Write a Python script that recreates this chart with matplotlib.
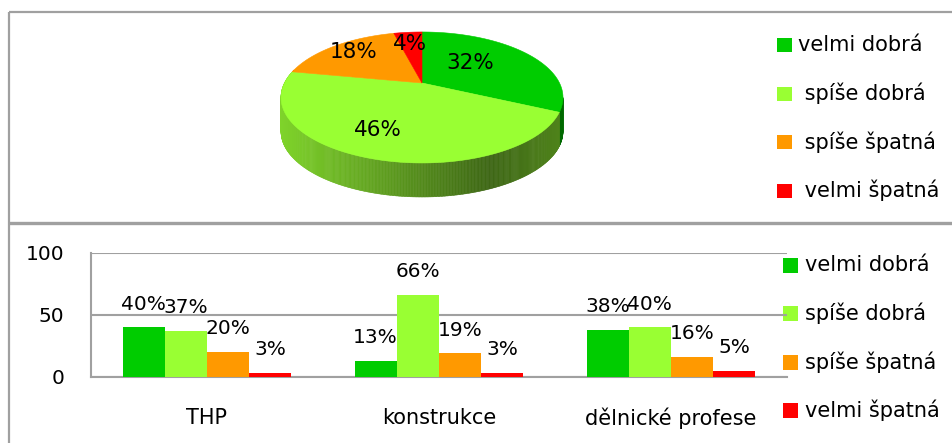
import numpy as np
import matplotlib
matplotlib.use("Agg")
import matplotlib.pyplot as plt
from matplotlib.patches import Polygon, Rectangle
from matplotlib.collections import PolyCollection
from matplotlib.colors import to_rgb

plt.rcParams['font.family'] = ['DejaVu Sans']

# ---------------- data ----------------
ratings = ["velmi dobrá", "spíše dobrá", "spíše špatná", "velmi špatná"]
pie_legend_labels = ["velmi dobrá", " spíše dobrá", " spíše špatná", " velmi špatná"]
colors = ["#00CC00", "#99FF33", "#FF9900", "#FF0000"]
pie_values = [32, 46, 18, 4]

groups = ["THP", "konstrukce", "dělnické profese"]
thp_values = [40, 37, 20, 3]
konstrukce_values = [13, 66, 19, 3]
delnicke_values = [38, 40, 16, 5]
y_ticks = [0, 50, 100]

# ---------------- figure ----------------
W, H = 953, 443
fig = plt.figure(figsize=(W / 100, H / 100), dpi=100)
ax0 = fig.add_axes([0, 0, 1, 1])
ax0.set_xlim(0, W)
ax0.set_ylim(H, 0)
ax0.axis('off')

border = "#a0a0a0"
ax0.plot([9, W], [11.5, 11.5], color=border, lw=1.6, solid_capstyle='butt')
ax0.plot([9, 9], [11.5, H], color=border, lw=1.6, solid_capstyle='butt')
ax0.plot([9, W], [223, 223], color=border, lw=2.4, solid_capstyle='butt')

# ---------------- 3D pie ----------------
CX, CY, A, B, K, DEPTH = 422, 83, 137.5, 62.3, 0.221, 34


def proj(u, v):
    d = 1 + K * v
    return CX + A * u / d, CY - B * v / d


def shade(u, v):
    xr = u / (1 + K * v)
    return np.interp(xr, [-1.03, 0.5, 1.03], [0.83, 0.40, 0.52])


total = float(sum(pie_values))
cum = np.concatenate([[0], np.cumsum(pie_values)]) / total
t_start = 90 - 360 * cum[:-1]
t_end = 90 - 360 * cum[1:]

vis_hi = -np.degrees(np.arcsin(K))
vis_lo = -180 - np.degrees(np.arcsin(K))

# side wall
polys, pcols = [], []
for i in range(len(pie_values)):
    hi = min(t_start[i], vis_hi)
    lo = max(t_end[i], vis_lo)
    if hi <= lo:
        continue
    n = max(2, int((hi - lo) / 0.5) + 1)
    ts = np.linspace(hi, lo, n)
    base = np.array(to_rgb(colors[i]))
    for a0, a1 in zip(ts[:-1], ts[1:]):
        r0, r1 = np.radians(a0), np.radians(a1)
        x0, y0 = proj(np.cos(r0), np.sin(r0))
        x1, y1 = proj(np.cos(r1), np.sin(r1))
        polys.append([(x0, y0), (x1, y1), (x1, y1 + DEPTH), (x0, y0 + DEPTH)])
        rm = np.radians((a0 + a1) / 2)
        f = shade(np.cos(rm), np.sin(rm))
        c = np.clip(base * f, 0, 1)
        pcols.append(c)
pc = PolyCollection(polys, facecolors=pcols, edgecolors=pcols, linewidths=0.4)
ax0.add_collection(pc)

# top faces
for i in range(len(pie_values)):
    ts = np.radians(np.linspace(t_start[i], t_end[i], 200))
    xs, ys = proj(np.cos(ts), np.sin(ts))
    pts = [(CX, CY)] + list(zip(xs, ys))
    ax0.add_patch(Polygon(pts, closed=True, facecolor=colors[i],
                          edgecolor=colors[i], lw=0.4))

# pie labels
label_r = [0.51, 0.70, 0.79, 0.73]
label_da = [10, -5, -2, 0.7]
for i, v in enumerate(pie_values):
    mid = np.radians((t_start[i] + t_end[i]) / 2 + label_da[i])
    lx, ly = proj(label_r[i] * np.cos(mid), label_r[i] * np.sin(mid))
    ax0.text(lx, ly, f"{v}%", ha='center', va='center', fontsize=15.5, color='black')

# pie legend
for i, lab in enumerate(pie_legend_labels):
    yc = 45 + i * 48.5
    ax0.add_patch(Rectangle((777, yc - 7), 15, 14, facecolor=colors[i], edgecolor='none'))
    ax0.text(798, yc, lab, ha='left', va='center', fontsize=15)

# ---------------- bar chart ----------------
ax_l, ax_r, ax_t, ax_b = 91, 787, 253, 377
ax = fig.add_axes([ax_l / W, (H - ax_b) / H, (ax_r - ax_l) / W, (ax_b - ax_t) / H])
ax.set_facecolor('none')
series = [[thp_values[i], konstrukce_values[i], delnicke_values[i]] for i in range(len(ratings))]
x = np.arange(len(groups))
bw = 0.182
for i, vals in enumerate(series):
    cont = ax.bar(x + (i - 1.5) * bw, vals, width=bw, color=colors[i], zorder=3)
    ax.bar_label(cont, labels=[f"{v}%" for v in vals], padding=10, fontsize=14.5)

ax.set_xlim(-0.5, len(groups) - 0.5)
ax.set_ylim(0, 100)
ax.set_yticks(y_ticks)
ax.set_yticklabels([str(t) for t in y_ticks], fontsize=14.5)
ax.set_xticks(x)
ax.set_xticklabels(groups, fontsize=15)
ax.tick_params(axis='y', length=0, pad=19)
ax.tick_params(axis='x', length=0, pad=22)
ax.yaxis.grid(True, color=border, lw=1.5, zorder=0)
ax.set_axisbelow(True)
for s in ['top', 'right']:
    ax.spines[s].set_visible(False)
for s in ['left', 'bottom']:
    ax.spines[s].set_color(border)
    ax.spines[s].set_linewidth(1.5)

# bar legend
for i, lab in enumerate(ratings):
    yc = 265 + i * 48.5
    ax0.add_patch(Rectangle((783, yc - 7.5), 15, 15, facecolor=colors[i], edgecolor='none'))
    ax0.text(805, yc, lab, ha='left', va='center', fontsize=15)

fig.savefig("out.png", dpi=100)
